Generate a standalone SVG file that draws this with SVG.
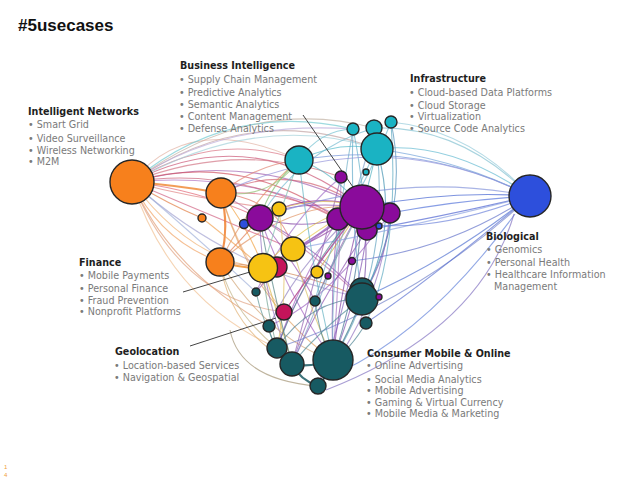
<svg xmlns="http://www.w3.org/2000/svg" width="638" height="479" viewBox="0 0 638 479">
<style>
.t{font-family:"DejaVu Sans",Verdana,sans-serif;font-size:9.6px;font-weight:bold;fill:#1e1e1e}
.i{font-family:"DejaVu Sans",Verdana,sans-serif;font-size:9.6px;fill:#7a7a7a}
.e{fill:none;stroke-width:1.1;stroke-opacity:0.68}
.k{fill:none;stroke-width:2.2;stroke-opacity:0.85}
.ld{fill:none;stroke:#444;stroke-width:1}
.n{stroke:#262626;stroke-width:1.4}
.o{fill:#f7801c}.p{fill:#8a0b9b}.y{fill:#f6c313}.c{fill:#c4145a}.cy{fill:#1ab3c3}.tl{fill:#175a62}.b{fill:#2d4fdc}
</style>
<rect width="638" height="479" fill="#ffffff"/>
<text x="18" y="31" font-family="Liberation Sans,Arial,sans-serif" font-weight="bold" font-size="17" fill="#111">#5usecases</text>
<text x="4" y="469" font-family="Liberation Sans,Arial,sans-serif" font-size="6" fill="#f0a040">1</text>
<text x="4" y="477" font-family="Liberation Sans,Arial,sans-serif" font-size="6" fill="#f0a040">4</text>

<g id="connectors">
<!-- from big orange -->
<path class="e" stroke="#d87080" d="M132 182 Q215 130 299 160"/>
<path class="e" stroke="#c85070" d="M132 182 Q250 120 362 207"/>
<path class="e" stroke="#a060b0" d="M132 182 Q250 150 362 207"/>
<path class="e" stroke="#c0a0a0" d="M132 182 Q250 100 377 149"/>
<path class="e" stroke="#d05060" d="M132 182 Q240 150 338 219"/>
<path class="e" stroke="#e06070" d="M132 182 Q200 190 260 218"/>
<path class="e" stroke="#f0a060" d="M132 182 Q160 240 220 262"/>
<path class="e" stroke="#f0b070" d="M132 182 Q190 260 263 268"/>
<path class="e" stroke="#d06080" d="M132 182 Q210 215 293 249"/>
<path class="e" stroke="#b070c0" d="M132 182 Q260 170 367 230"/>
<path class="e" stroke="#a0a0d0" d="M132 182 Q230 270 362 298"/>
<path class="e" stroke="#e0a080" d="M132 182 Q180 300 284 312"/>
<path class="e" stroke="#d07080" d="M132 182 Q240 140 341 177"/>
<path class="e" stroke="#e08080" d="M132 182 Q200 200 279 209"/>
<path class="e" stroke="#c0b0a0" d="M132 182 Q250 95 374 128"/>
<path class="e" stroke="#f0c090" d="M132 182 Q170 300 277 348"/>
<path class="e" stroke="#e0b0a0" d="M132 182 Q190 110 299 160"/>
<path class="e" stroke="#9fb0d8" d="M132 182 Q200 240 256 292"/>
<path class="e" stroke="#c86078" d="M132 182 Q230 165 338 219"/>
<path class="e" stroke="#e09a70" d="M132 182 Q170 270 269 326"/>
<path class="e" stroke="#b8a8d8" d="M132 182 Q220 120 353 129"/>
<path class="k" stroke="#f08c3a" d="M132 182 Q176 185 221 193"/>
<path class="e" stroke="#e07a40" d="M132 182 Q170 205 202 218"/>
<!-- orange 2 and 3 -->
<path class="e" stroke="#d06070" d="M221 193 Q290 160 362 207"/>
<path class="k" stroke="#f08030" d="M221 193 Q230 228 220 262"/>
<path class="e" stroke="#f0a040" d="M221 193 Q250 230 263 268"/>
<path class="e" stroke="#e08070" d="M221 193 Q255 165 299 160"/>
<path class="e" stroke="#c070a0" d="M221 193 Q300 240 362 298"/>
<path class="e" stroke="#f0b080" d="M221 193 Q240 260 284 312"/>
<path class="e" stroke="#e0a060" d="M221 193 Q250 300 333 360"/>
<path class="e" stroke="#d8607a" d="M221 193 Q290 190 338 219"/>
<path class="e" stroke="#e07060" d="M221 193 Q280 200 293 249"/>
<path class="e" stroke="#e09060" d="M220 262 Q290 200 362 207"/>
<path class="k" stroke="#f09030" d="M220 262 Q240 268 263 268"/>
<path class="e" stroke="#e0b070" d="M220 262 Q230 330 292 364"/>
<path class="e" stroke="#d0a070" d="M220 262 Q270 340 333 360"/>
<path class="e" stroke="#e09060" d="M220 262 Q250 200 299 160"/>
<path class="e" stroke="#d08050" d="M220 262 Q300 270 362 298"/>
<path class="e" stroke="#c0b080" d="M220 262 Q230 310 277 348"/>
<path class="e" stroke="#e07a50" d="M220 262 Q250 230 260 218"/>
<path class="e" stroke="#f0a050" d="M202 218 Q230 240 263 268"/>
<!-- purple -->
<path class="e" stroke="#9030a0" d="M260 218 Q310 190 362 207"/>
<path class="e" stroke="#9050b0" d="M260 218 Q320 250 362 298"/>
<path class="e" stroke="#a060c0" d="M260 218 Q290 300 333 360"/>
<path class="e" stroke="#8040a0" d="M260 218 Q300 230 338 219"/>
<path class="e" stroke="#9070c0" d="M260 218 Q260 290 292 364"/>
<path class="e" stroke="#9a50b0" d="M260 218 Q300 270 315 301"/>
<path class="e" stroke="#8040a0" d="M362 207 Q340 290 333 360"/>
<path class="e" stroke="#9060b0" d="M362 207 Q320 280 292 364"/>
<path class="e" stroke="#7040a0" d="M362 207 Q370 250 362 298"/>
<path class="e" stroke="#a070c0" d="M362 207 Q300 280 277 348"/>
<path class="e" stroke="#8060c0" d="M362 207 Q350 300 318 386"/>
<path class="e" stroke="#a050b0" d="M362 207 Q310 240 263 268"/>
<path class="e" stroke="#9040a0" d="M362 207 Q330 235 293 249"/>
<path class="e" stroke="#b060c0" d="M362 207 Q320 260 284 312"/>
<path class="e" stroke="#9080c0" d="M362 207 Q300 260 269 326"/>
<path class="e" stroke="#8a40a8" d="M362 207 Q290 200 260 218"/>
<path class="e" stroke="#9a58b8" d="M362 207 Q290 250 256 292"/>
<path class="e" stroke="#9050b0" d="M338 219 Q330 290 333 360"/>
<path class="e" stroke="#a060c0" d="M338 219 Q300 280 277 348"/>
<path class="e" stroke="#8050b0" d="M367 230 Q360 290 333 360"/>
<path class="e" stroke="#9050b0" d="M390 213 Q390 250 362 298"/>
<path class="e" stroke="#9070c0" d="M390 213 Q380 310 318 386"/>
<path class="e" stroke="#a070c0" d="M341 177 Q340 270 333 360"/>
<path class="e" stroke="#9060b0" d="M341 177 Q320 260 292 364"/>
<path class="e" stroke="#a070c8" d="M341 177 Q290 220 256 292"/>
<path class="e" stroke="#9a60c0" d="M390 213 Q330 300 269 326"/>
<path class="e" stroke="#8a50b0" d="M367 230 Q320 300 292 364"/>
<path class="e" stroke="#9060c0" d="M338 219 Q300 250 263 268"/>
<!-- yellow -->
<path class="e" stroke="#e0c040" d="M263 268 Q310 215 362 207"/>
<path class="e" stroke="#e8c850" d="M293 249 Q330 220 362 207"/>
<path class="e" stroke="#d8c060" d="M293 249 Q310 310 333 360"/>
<path class="e" stroke="#e0c050" d="M279 209 Q320 195 362 207"/>
<path class="e" stroke="#d0b040" d="M317 272 Q340 240 362 207"/>
<path class="e" stroke="#d8b850" d="M263 268 Q280 320 292 364"/>
<path class="e" stroke="#e0c060" d="M279 209 Q290 290 277 348"/>
<!-- cyan -->
<path class="e" stroke="#70c8d0" d="M353 129 Q230 100 132 182"/>
<path class="e" stroke="#a0d0d8" d="M377 149 Q260 110 132 182"/>
<path class="e" stroke="#50b0c0" d="M377 149 Q370 180 362 207"/>
<path class="e" stroke="#60a0c0" d="M377 149 Q390 270 333 360"/>
<path class="e" stroke="#4090b0" d="M377 149 Q400 230 362 298"/>
<path class="e" stroke="#60b8d0" d="M377 149 Q450 140 530 196"/>
<path class="e" stroke="#80c0d0" d="M374 128 Q460 125 530 196"/>
<path class="e" stroke="#70b0c8" d="M353 129 Q330 260 333 360"/>
<path class="e" stroke="#60a8c8" d="M353 129 Q350 220 362 298"/>
<path class="e" stroke="#5090b8" d="M391 122 Q410 210 362 298"/>
<path class="e" stroke="#90c8d8" d="M391 122 Q470 130 530 196"/>
<path class="e" stroke="#80a0c8" d="M374 128 Q340 260 292 364"/>
<path class="e" stroke="#60b0c0" d="M299 160 Q310 260 333 360"/>
<path class="e" stroke="#50b0c0" d="M299 160 Q330 170 362 207"/>
<path class="e" stroke="#50b8c8" d="M299 160 Q340 140 377 149"/>
<path class="e" stroke="#80c0b0" d="M299 160 Q280 210 263 268"/>
<path class="e" stroke="#80c070" d="M299 160 Q270 185 260 218"/>
<path class="e" stroke="#90c070" d="M299 160 Q270 200 221 193"/>
<path class="e" stroke="#70c0d0" d="M353 129 Q320 130 299 160"/>
<path class="e" stroke="#70b8d0" d="M374 128 Q300 150 260 218"/>
<path class="e" stroke="#70b8d0" d="M391 122 Q360 200 338 219"/>
<path class="e" stroke="#60b0c8" d="M353 129 Q360 160 367 230"/>
<path class="e" stroke="#5aa8c0" d="M391 122 Q400 250 366 323"/>
<path class="e" stroke="#68b0c8" d="M377 149 Q330 240 315 301"/>
<!-- big blue -->
<path class="e" stroke="#4060d0" d="M530 196 Q450 190 362 207"/>
<path class="e" stroke="#5070d8" d="M530 196 Q460 200 390 213"/>
<path class="e" stroke="#5070d0" d="M530 196 Q450 260 362 298"/>
<path class="e" stroke="#6080d8" d="M515 214 Q430 330 340 372"/>
<path class="e" stroke="#8070c0" d="M514 214 Q480 330 326 390"/>
<path class="e" stroke="#7090d8" d="M530 196 Q420 140 299 160"/>
<path class="e" stroke="#8090d8" d="M530 196 Q400 170 260 218"/>
<path class="e" stroke="#4a60d0" d="M530 196 Q450 215 367 230"/>
<path class="e" stroke="#6070c8" d="M530 196 Q450 250 352 261"/>
<path class="e" stroke="#7080c8" d="M530 196 Q420 300 277 348"/>
<path class="e" stroke="#70a0d8" d="M530 196 Q460 160 377 149"/>
<path class="e" stroke="#8aa0e0" d="M530 196 Q400 230 293 249"/>
<path class="e" stroke="#9090d8" d="M530 196 Q380 120 221 193"/>
<path class="e" stroke="#5a70d0" d="M530 196 Q430 280 366 323"/>
<path class="e" stroke="#6a80d8" d="M530 196 Q420 240 338 219"/>
<!-- teal -->
<path class="e" stroke="#307080" d="M333 360 Q350 330 362 298"/>
<path class="k" stroke="#1b5b63" d="M292 364 Q300 380 318 386"/>
<path class="k" stroke="#1b5b63" d="M277 348 Q282 358 292 364"/>
<path class="k" stroke="#1b5b63" d="M333 360 Q328 375 318 386"/>
<path class="k" stroke="#1b5b63" d="M292 364 Q310 368 333 360"/>
<path class="e" stroke="#407090" d="M333 360 Q360 280 362 207"/>
<path class="e" stroke="#508090" d="M277 348 Q310 260 362 207"/>
<path class="e" stroke="#508080" d="M292 364 Q270 280 260 218"/>
<path class="e" stroke="#307080" d="M269 326 Q270 338 277 348"/>
<path class="e" stroke="#70a090" d="M277 348 Q265 300 263 268"/>
<path class="e" stroke="#4a8090" d="M366 323 Q350 350 333 360"/>
<path class="e" stroke="#4a8090" d="M315 301 Q320 340 333 360"/>
<path class="e" stroke="#5a9090" d="M256 292 Q262 320 277 348"/>
<path class="e" stroke="#a09070" d="M230 330 Q240 380 318 386"/>
<path class="e" stroke="#6a90a0" d="M315 301 Q340 250 362 207"/>
<path class="e" stroke="#c05080" d="M284 312 Q320 260 362 207"/>
<path class="e" stroke="#508a98" d="M362 298 Q320 330 292 364"/>
<path class="e" stroke="#4a7a90" d="M362 298 Q310 300 277 348"/>
<!-- leader lines -->
<path class="ld" d="M303 115 L362 200"/>
<path class="ld" d="M183 292 L260 269"/>
<path class="ld" d="M190 346 L276 318"/>
</g>

<g id="node-orange-1"><circle class="n o" cx="132" cy="182" r="22"/></g>
<g id="node-orange-2"><circle class="n o" cx="221" cy="193" r="15"/></g>
<g id="node-orange-3"><circle class="n o" cx="202" cy="218" r="4"/></g>
<g id="node-orange-4"><circle class="n o" cx="220" cy="262" r="14"/></g>
<g id="node-blue-s1"><circle class="n b" cx="244" cy="224" r="4.5"/></g>
<g id="node-purple-1"><circle class="n p" cx="260" cy="218" r="13"/></g>
<g id="node-yellow-1"><circle class="n y" cx="279" cy="209" r="7"/></g>
<g id="node-yellow-2"><circle class="n y" cx="293" cy="249" r="12"/></g>
<g id="node-crimson-1"><circle class="n c" cx="277" cy="267" r="10"/></g>
<g id="node-yellow-3"><circle class="n y" cx="263" cy="268" r="14.5"/></g>
<g id="node-yellow-4"><circle class="n y" cx="317" cy="272" r="6"/></g>
<g id="node-purple-2"><circle class="n p" cx="328" cy="276" r="3"/></g>
<g id="node-cyan-1"><circle class="n cy" cx="299" cy="160" r="14"/></g>
<g id="node-purple-3"><circle class="n p" cx="341" cy="177" r="6"/></g>
<g id="node-purple-4"><circle class="n p" cx="338" cy="219" r="11"/></g>
<g id="node-purple-5"><circle class="n p" cx="390" cy="213" r="10"/></g>
<g id="node-purple-6"><circle class="n p" cx="367" cy="230" r="10"/></g>
<g id="node-purple-big"><circle class="n p" cx="362" cy="207" r="22"/></g>
<g id="node-blue-s2"><circle class="n b" cx="379" cy="226" r="3"/></g>
<g id="node-cyan-2"><circle class="n cy" cx="366" cy="172" r="3"/></g>
<g id="node-cyan-3"><circle class="n cy" cx="353" cy="129" r="6"/></g>
<g id="node-cyan-4"><circle class="n cy" cx="374" cy="128" r="8"/></g>
<g id="node-cyan-5"><circle class="n cy" cx="391" cy="122" r="6"/></g>
<g id="node-cyan-big"><circle class="n cy" cx="377" cy="149" r="16"/></g>
<g id="node-blue-big"><circle class="n b" cx="530" cy="196" r="21"/></g>
<g id="node-purple-7"><circle class="n p" cx="352" cy="261" r="3.5"/></g>
<g id="node-teal-1"><circle class="n tl" cx="362" cy="290" r="12"/></g>
<g id="node-teal-2"><circle class="n tl" cx="362" cy="299" r="16"/></g>
<g id="node-purple-8"><circle class="n p" cx="379" cy="297" r="3"/></g>
<g id="node-teal-3"><circle class="n tl" cx="366" cy="323" r="6"/></g>
<g id="node-teal-4"><circle class="n tl" cx="315" cy="301" r="5"/></g>
<g id="node-teal-5"><circle class="n tl" cx="256" cy="292" r="4"/></g>
<g id="node-crimson-2"><circle class="n c" cx="284" cy="312" r="8"/></g>
<g id="node-teal-6"><circle class="n tl" cx="269" cy="326" r="6"/></g>
<g id="node-teal-7"><circle class="n tl" cx="277" cy="348" r="10"/></g>
<g id="node-teal-8"><circle class="n tl" cx="292" cy="364" r="12"/></g>
<g id="node-teal-big"><circle class="n tl" cx="333" cy="360" r="20"/></g>
<g id="node-teal-9"><circle class="n tl" cx="318" cy="386" r="8"/></g>

<g id="label-bi">
<text class="t" x="180" y="69">Business Intelligence</text>
<text class="i" x="179" y="82.5">•  Supply Chain Management</text>
<text class="i" x="179" y="96">•  Predictive Analytics</text>
<text class="i" x="179" y="107.5">•  Semantic Analytics</text>
<text class="i" x="179" y="120">•  Content Management</text>
<text class="i" x="179" y="131.5">•  Defense Analytics</text>
</g>
<g id="label-infra">
<text class="t" x="410" y="82">Infrastructure</text>
<text class="i" x="409" y="96">•  Cloud-based Data Platforms</text>
<text class="i" x="409" y="108.5">•  Cloud Storage</text>
<text class="i" x="409" y="120">•  Virtualization</text>
<text class="i" x="409" y="132">•  Source Code Analytics</text>
</g>
<g id="label-in">
<text class="t" x="28" y="115">Intelligent Networks</text>
<text class="i" x="28" y="128">•  Smart Grid</text>
<text class="i" x="28" y="142">•  Video Surveillance</text>
<text class="i" x="28" y="154">•  Wireless Networking</text>
<text class="i" x="28" y="165">•  M2M</text>
</g>
<g id="label-bio">
<text class="t" x="486" y="240">Biological</text>
<text class="i" x="486" y="252.5">•  Genomics</text>
<text class="i" x="486" y="265.5">•  Personal Health</text>
<text class="i" x="486" y="278">•  Healthcare Information</text>
<text class="i" x="494" y="289.5">Management</text>
</g>
<g id="label-fin">
<text class="t" x="79" y="265.5">Finance</text>
<text class="i" x="79" y="278.5">•  Mobile Payments</text>
<text class="i" x="79" y="291.5">•  Personal Finance</text>
<text class="i" x="79" y="303.5">•  Fraud Prevention</text>
<text class="i" x="79" y="315">•  Nonprofit Platforms</text>
</g>
<g id="label-geo">
<text class="t" x="115" y="355">Geolocation</text>
<text class="i" x="114" y="368.5">•  Location-based Services</text>
<text class="i" x="114" y="381">•  Navigation &amp; Geospatial</text>
</g>
<g id="label-cmo">
<text class="t" x="367" y="356.5">Consumer Mobile &amp; Online</text>
<text class="i" x="366" y="369">•  Online Advertising</text>
<text class="i" x="366" y="382.5">•  Social Media Analytics</text>
<text class="i" x="366" y="394">•  Mobile Advertising</text>
<text class="i" x="366" y="405.5">•  Gaming &amp; Virtual Currency</text>
<text class="i" x="366" y="417">•  Mobile Media &amp; Marketing</text>
</g>
</svg>
